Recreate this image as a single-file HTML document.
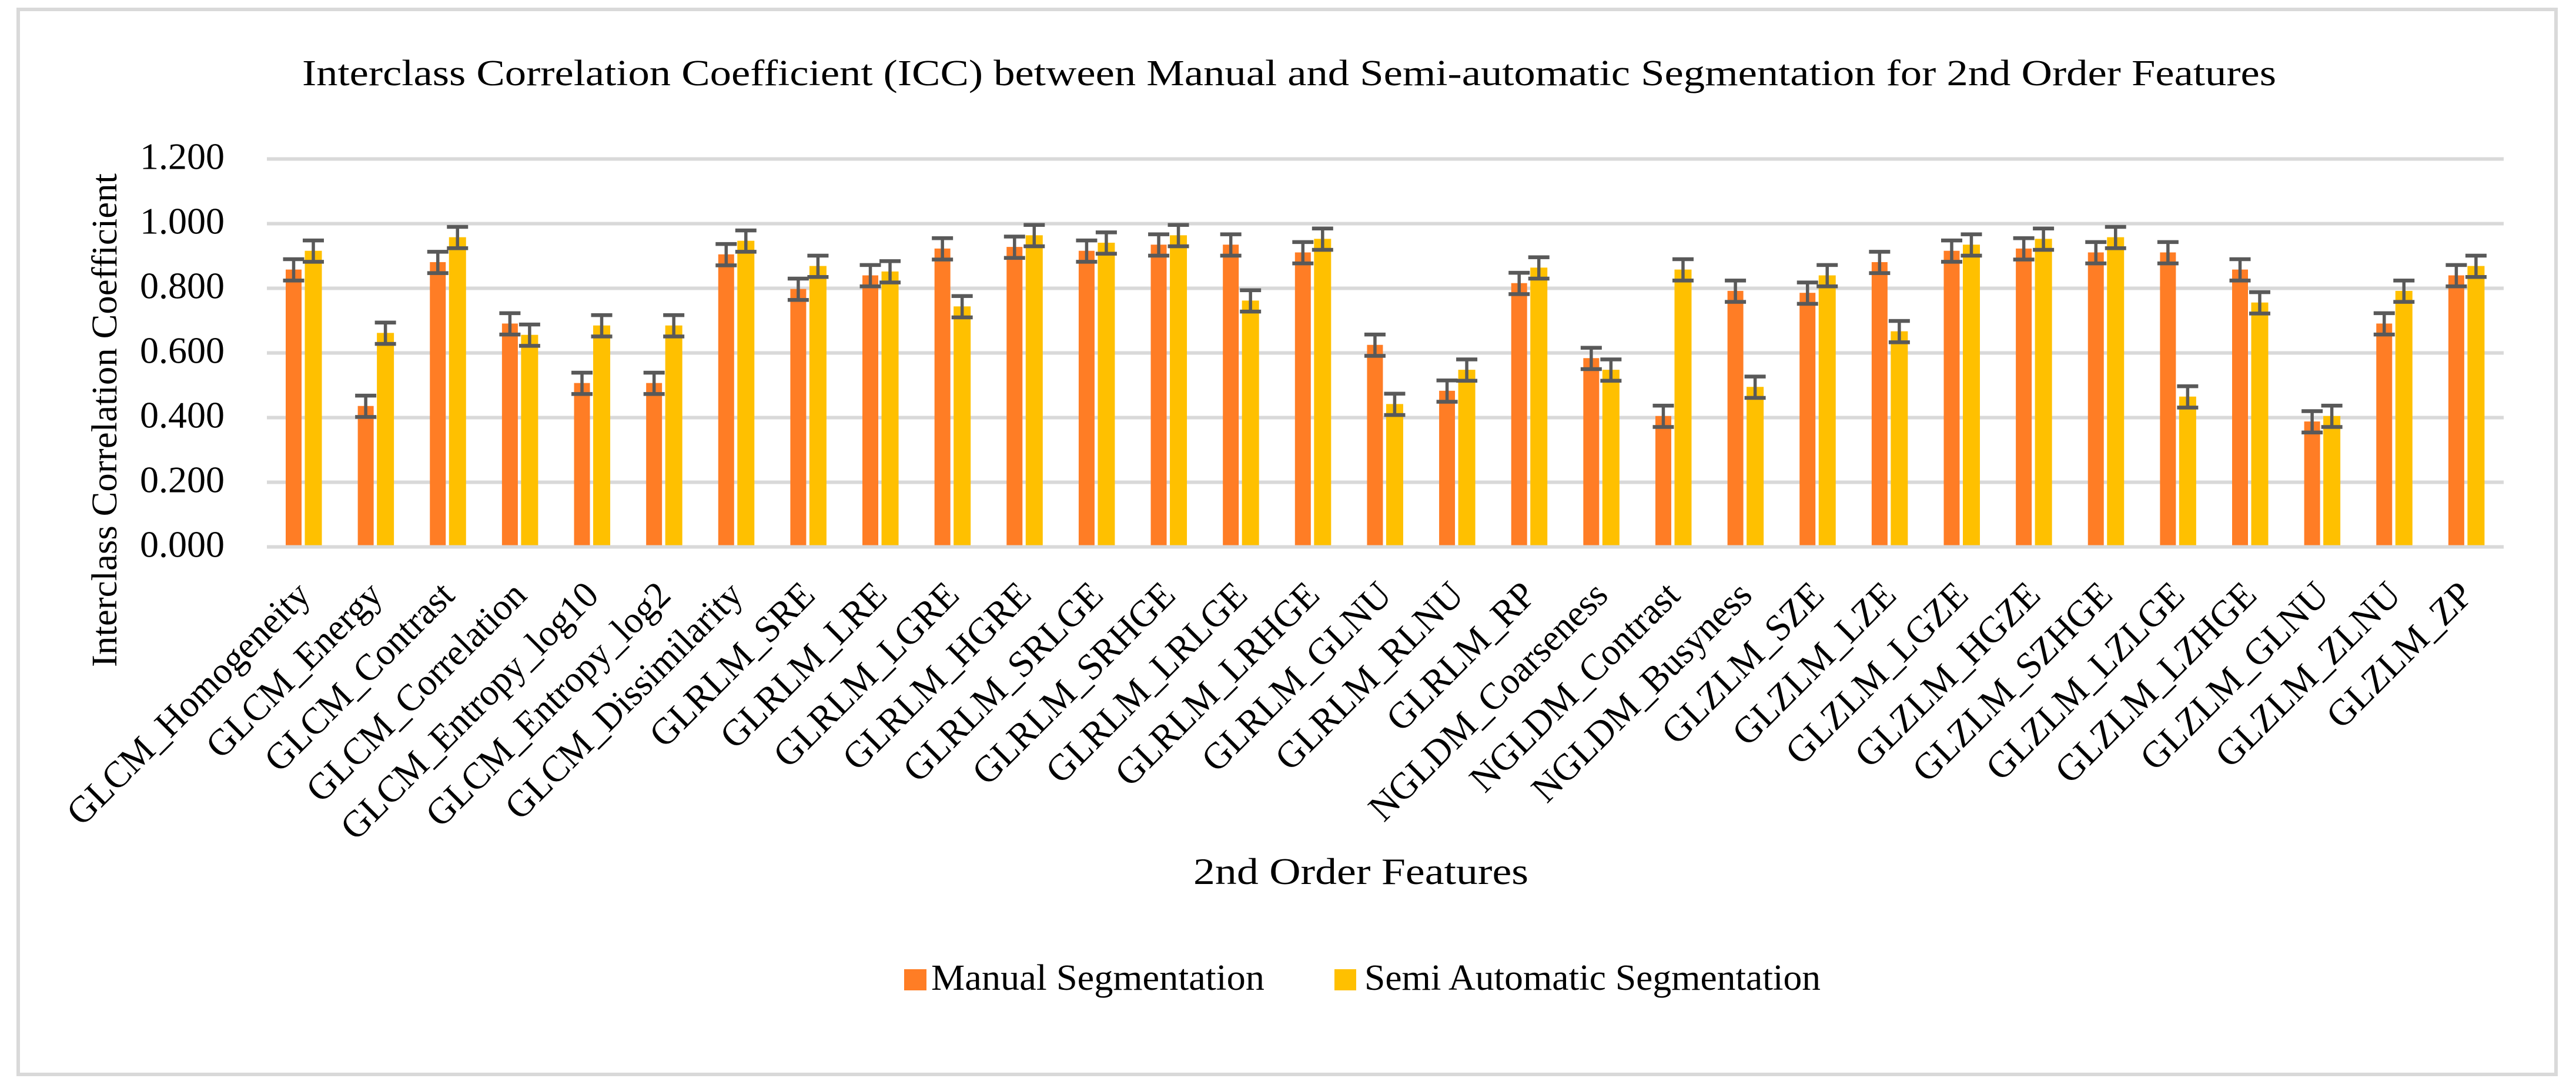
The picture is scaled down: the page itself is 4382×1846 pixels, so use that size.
<!DOCTYPE html>
<html lang="en">
<head>
<meta charset="utf-8">
<title>Interclass Correlation Coefficient chart</title>
<style>
  html,body{margin:0;padding:0;background:#fff;width:4382px;height:1846px;overflow:hidden}
  svg{display:block}
  text{font-family:"Liberation Serif",serif;fill:#000}
</style>
</head>
<body>
<svg id="chart" xmlns="http://www.w3.org/2000/svg" width="4382" height="1846" viewBox="0 0 4382 1846">
  <rect x="31" y="16" width="4317" height="1812" fill="#fff" stroke="#d9d9d9" stroke-width="6"/>
  <text x="514" y="145" font-size="62" textLength="3358" lengthAdjust="spacingAndGlyphs">Interclass Correlation Coefficient (ICC) between Manual and Semi-automatic Segmentation for 2nd Order Features</text>
  <g id="grid"></g>
  <g id="yticks"></g>
  <text transform="translate(198,1135) rotate(-90)" font-size="61" textLength="840" lengthAdjust="spacingAndGlyphs">Interclass Correlation Coefficient</text>
  <g id="bars"></g>
  <g id="errs"></g>
  <g id="xlabels"></g>
  <text x="2030" y="1504" font-size="64" textLength="570" lengthAdjust="spacingAndGlyphs">2nd Order Features</text>
  <g>
    <rect x="1538" y="1649" width="38" height="36" fill="#ff7d25"/>
    <text x="1584" y="1684" font-size="62" textLength="567" lengthAdjust="spacingAndGlyphs">Manual Segmentation</text>
    <rect x="2270" y="1649" width="37" height="36" fill="#ffc000"/>
    <text x="2321" y="1684" font-size="62" textLength="776" lengthAdjust="spacingAndGlyphs">Semi Automatic Segmentation</text>
  </g>
</svg>
<script>
const categories = ["GLCM_Homogeneity","GLCM_Energy","GLCM_Contrast","GLCM_Correlation","GLCM_Entropy_log10","GLCM_Entropy_log2","GLCM_Dissimilarity","GLRLM_SRE","GLRLM_LRE","GLRLM_LGRE","GLRLM_HGRE","GLRLM_SRLGE","GLRLM_SRHGE","GLRLM_LRLGE","GLRLM_LRHGE","GLRLM_GLNU","GLRLM_RLNU","GLRLM_RP","NGLDM_Coarseness","NGLDM_Contrast","NGLDM_Busyness","GLZLM_SZE","GLZLM_LZE","GLZLM_LGZE","GLZLM_HGZE","GLZLM_SZHGE","GLZLM_LZLGE","GLZLM_LZHGE","GLZLM_GLNU","GLZLM_ZLNU","GLZLM_ZP"];
const manualValues = [0.858,0.436,0.881,0.691,0.507,0.507,0.905,0.798,0.840,0.923,0.928,0.916,0.935,0.935,0.911,0.625,0.483,0.816,0.584,0.405,0.792,0.786,0.881,0.916,0.923,0.911,0.911,0.858,0.388,0.691,0.840];
const semiValues = [0.916,0.662,0.958,0.656,0.685,0.685,0.947,0.869,0.852,0.744,0.964,0.941,0.964,0.762,0.953,0.442,0.548,0.864,0.548,0.858,0.495,0.840,0.667,0.935,0.953,0.958,0.465,0.756,0.405,0.792,0.869];
const errorUp = [0.032];
const errorDown = [0.034];
const yTickValues = [0,0.2,0.4,0.6,0.8,1.0,1.2];
const yTickLabels = ["0.000","0.200","0.400","0.600","0.800","1.000","1.200"];

const NS = "http://www.w3.org/2000/svg";
const plotLeft = 454, plotRight = 4259, zeroY = 930.5, pxPerUnit = 550;
const band = (plotRight - plotLeft - 1) / categories.length;
function xCenter(i){ return plotLeft + 63 + i * band - (i * 0.08); }
function yScale(v){ return zeroY - v * pxPerUnit; }
function mk(tag, parent, attrs){
  const el = document.createElementNS(NS, tag);
  for (const k in attrs) el.setAttribute(k, attrs[k]);
  parent.appendChild(el);
  return el;
}
const gGrid = document.getElementById("grid");
const gTicks = document.getElementById("yticks");
const gBars = document.getElementById("bars");
const gErrs = document.getElementById("errs");
const gLabels = document.getElementById("xlabels");

yTickValues.forEach(function(v, i){
  const line = mk("rect", gGrid, {x: plotLeft, y: yScale(v) - 3, width: plotRight - plotLeft, height: 6, fill: "#d9d9d9"});
  
  
  const t = mk("text", gTicks, {x: 382, y: yScale(v) + 17, "font-size": 64, "text-anchor": "end"});
  t.textContent = yTickLabels[i];
  
  
});

function drawError(cx, v){
  const top = yScale(v + errorUp[0]), bottom = yScale(v - errorDown[0]);
  const stem = mk("rect", gErrs, {x: cx - 2.75, y: top, width: 5.5, height: bottom - top, fill: "#595959"});
  
  
  const capTop = mk("rect", gErrs, {x: cx - 18, y: top - 3.25, width: 36, height: 6.5, fill: "#595959"});
  
  
  const capBottom = mk("rect", gErrs, {x: cx - 18, y: bottom - 3.25, width: 36, height: 6.5, fill: "#595959"});
  
  
}

categories.forEach(function(name, i){
  const c = xCenter(i);
  const mTop = yScale(manualValues[i]);
  const mBar = mk("rect", gBars, {x: c - 31, y: mTop, width: 27, height: zeroY - 3 - mTop, fill: "#ff7d25"});
  
  
  const sTop = yScale(semiValues[i]);
  const sBar = mk("rect", gBars, {x: c + 1.5, y: sTop, width: 29, height: zeroY - 3 - sTop, fill: "#ffc000"});
  
  
  drawError(c - 17.5, manualValues[i]);
  drawError(c + 16, semiValues[i]);
  const lbl = mk("text", gLabels, {"font-size": 64, "text-anchor": "end", transform: "translate(" + (c + 14) + ",1016) rotate(-45) scale(0.98,1)"});
  lbl.textContent = name;
  
  
});
</script>
</body>
</html>
